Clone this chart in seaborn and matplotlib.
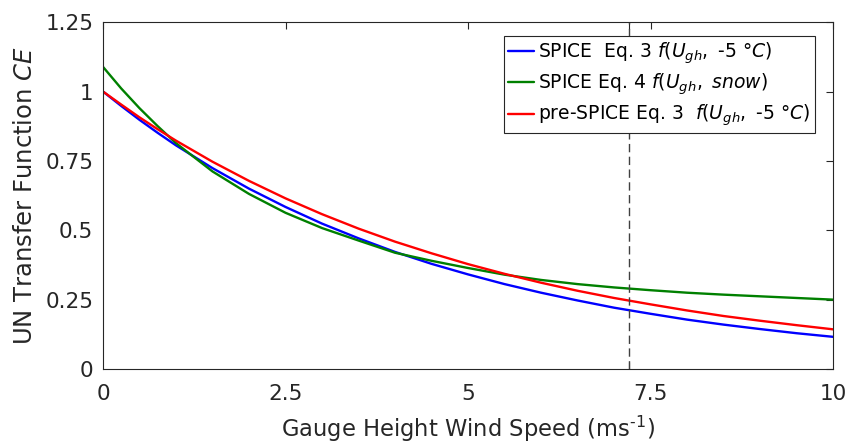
import numpy as np
import pandas as pd
import matplotlib
matplotlib.use("Agg")
import matplotlib.pyplot as plt
import seaborn as sns

# ---- data ----
wind = [0, 0.25, 0.5, 0.75, 1, 1.5, 2, 2.5, 3, 3.5, 4, 4.5, 5, 5.5, 6, 6.5, 7, 7.5, 8, 8.5, 9, 9.5, 10]
ce_spice_eq3 = [1.000, 0.948, 0.898, 0.851, 0.806, 0.724, 0.650, 0.584, 0.524, 0.471, 0.422, 0.379, 0.341,
                0.306, 0.275, 0.247, 0.221, 0.199, 0.178, 0.160, 0.144, 0.129, 0.116]
ce_spice_eq4 = [1.089, 1.011, 0.940, 0.875, 0.814, 0.712, 0.631, 0.563, 0.508, 0.463, 0.419, 0.390, 0.364,
                0.340, 0.321, 0.306, 0.294, 0.284, 0.275, 0.268, 0.262, 0.256, 0.250]
ce_pre_spice = [1.000, 0.953, 0.907, 0.864, 0.823, 0.747, 0.678, 0.615, 0.558, 0.506, 0.459, 0.417, 0.378,
                0.343, 0.311, 0.282, 0.256, 0.233, 0.211, 0.191, 0.174, 0.158, 0.143]
labels = ["SPICE  Eq. 3 $\\mathit{f(U_{gh},\\ \u20105\\ °C)}$",
          "SPICE Eq. 4 $\\mathit{f(U_{gh},\\ snow)}$",
          "pre-SPICE Eq. 3  $\\mathit{f(U_{gh},\\ \u20105\\ °C)}$"]
colors = ["#0000ff", "#008000", "#ff0000"]
xticks = [0, 2.5, 5, 7.5, 10]
xticklabels = ["0", "2.5", "5", "7.5", "10"]
yticks = [0, 0.25, 0.5, 0.75, 1, 1.25]
yticklabels = ["0", "0.25", "0.5", "0.75", "1", "1.25"]
ref_speed = 7.2

sns.set_style("white")
plt.rcParams["font.family"] = ["DejaVu Sans"]
plt.rcParams["mathtext.fontset"] = "dejavusans"

fig = plt.figure(figsize=(8.51, 4.43), dpi=100)
ax = fig.add_axes([0.121, 0.167, 0.858, 0.783])

for series, lab, col in zip([ce_spice_eq3, ce_spice_eq4, ce_pre_spice], labels, colors):
    df = pd.DataFrame({"U": wind, "CE": series})
    sns.lineplot(data=df, x="U", y="CE", ax=ax, color=col, lw=1.7, label=lab)

ax.axvline(ref_speed, color="#404040", lw=1, ls=(0, (6, 3.2)))

ax.set_xlim(0, 10)
ax.set_ylim(0, 1.25)
ax.set_xticks(xticks)
ax.set_xticklabels(xticklabels)
ax.set_xticks([ref_speed], minor=True)
ax.set_yticks(yticks)
ax.set_yticklabels(yticklabels)

ink = "#262626"
for s in ax.spines.values():
    s.set_visible(True)
    s.set_color(ink)
    s.set_linewidth(0.8)
ax.tick_params(axis="both", which="major", direction="in", length=5, width=0.8,
               top=True, right=True, colors=ink, labelsize=15.5, labelcolor=ink)
ax.tick_params(axis="x", which="major", pad=11)
ax.tick_params(axis="y", which="major", pad=7)
ax.tick_params(axis="x", which="minor", direction="in", length=5, width=0.8,
               top=True, bottom=True, colors=ink)

ax.set_xlabel("Gauge Height Wind Speed (ms$^{\u20101}$)", fontsize=16.3, color=ink, labelpad=7)
ax.set_ylabel(r"UN Transfer Function $\mathit{CE}$", fontsize=17.5, color=ink, labelpad=6)

leg = ax.legend(loc="upper right", bbox_to_anchor=(0.975, 0.96), borderaxespad=0,
                fontsize=13.5, frameon=True, fancybox=False, edgecolor=ink,
                handlelength=1.4, handletextpad=0.17, labelspacing=0.3,
                borderpad=0.25, framealpha=1)
leg.get_frame().set_linewidth(0.8)
for t in leg.get_texts():
    t.set_color("black")

fig.savefig("out.png", dpi=100, facecolor="white")
